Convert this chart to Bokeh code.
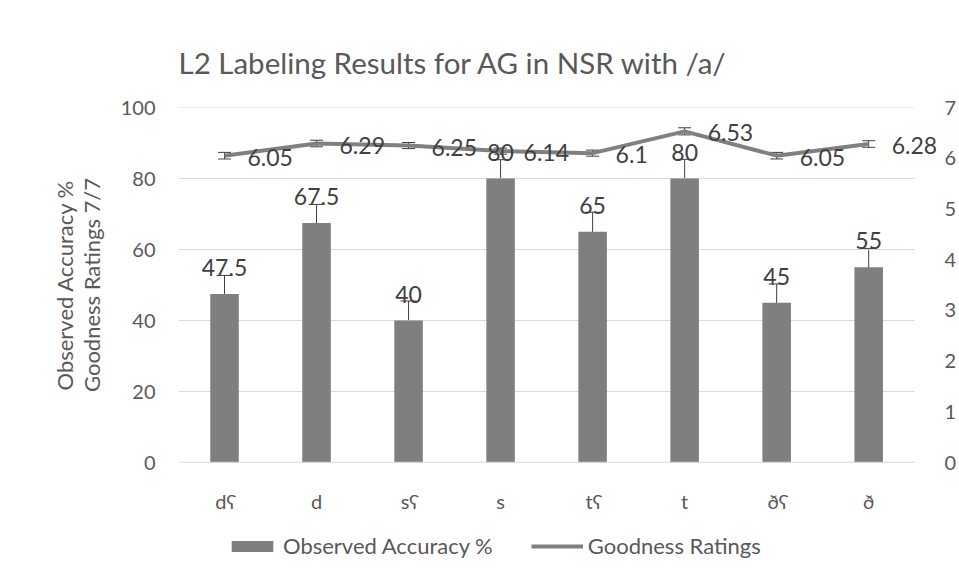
from bokeh.plotting import figure
from bokeh.layouts import column
from bokeh.core.properties import value
from bokeh.models import (Range1d, LinearAxis, Whisker, ColumnDataSource, Legend,
                          LegendItem, LabelSet, FixedTicker, TeeHead)
from bokeh.embed import file_html
from bokeh.resources import INLINE

categories = ["dʕ", "d", "sʕ", "s", "tʕ", "t", "ðʕ", "ð"]
accuracy = [47.5, 67.5, 40, 80, 65, 80, 45, 55]
accuracy_err = [5.2, 5.2, 5.5, 5.3, 5.5, 5.4, 5.3, 5.3]
goodness = [6.05, 6.29, 6.25, 6.14, 6.1, 6.53, 6.05, 6.28]
goodness_err = [0.065, 0.065, 0.06, 0.06, 0.06, 0.07, 0.065, 0.065]
left_ticks = [0, 20, 40, 60, 80, 100]
right_ticks = [0, 1, 2, 3, 4, 5, 6, 7]

FONT = "Lato"
TXT = "#595959"
GRID = "#D9D9D9"
BAR = "#7F7F7F"
LINE = "#808080"

# category slot centres on a numeric axis (one unit per category)
xpos = [i + 0.5 for i in range(len(categories))]
n_cat = len(categories)

src = ColumnDataSource(dict(
    x=xpos,
    acc=accuracy,
    acc_hi=[a + e for a, e in zip(accuracy, accuracy_err)],
    acc_lo=[a - e for a, e in zip(accuracy, accuracy_err)],
    acc_lbl=[f"{a:g}" for a in accuracy],
    good=goodness,
    good_hi=[g + e for g, e in zip(goodness, goodness_err)],
    good_lo=[g - e for g, e in zip(goodness, goodness_err)],
    good_lbl=[f"{g:g}" for g in goodness],
))

p = figure(x_range=Range1d(0, n_cat * 1.0296), y_range=Range1d(0, 100),
           width=959, height=525,
           output_backend="svg", toolbar_location=None,
           title="L2 Labeling Results for AG in NSR with /a/",
           min_border_left=178, min_border_right=17, min_border_top=107,
           min_border_bottom=63)
p.extra_y_ranges = {"right": Range1d(0, 7)}

p.title.align = "left"
p.title.text_font = FONT
p.title.text_font_size = "29.5px"
p.title.text_font_style = "normal"
p.title.text_color = TXT
p.title.standoff = 55

p.outline_line_color = None
p.xgrid.grid_line_color = None
p.ygrid.grid_line_color = None

# horizontal gridlines across the category slots only
p.segment(x0=[0] * len(left_ticks), x1=[n_cat] * len(left_ticks),
          y0=left_ticks, y1=left_ticks, line_color=GRID, line_width=1)

bars = p.vbar(x="x", top="acc", width=0.31, source=src, fill_color=BAR,
              line_color=None)
p.add_layout(Whisker(source=src, base="x", upper="acc_hi", lower="acc_lo",
                     line_color="#404040", line_width=1,
                     upper_head=TeeHead(size=16, line_color="#404040", line_width=1),
                     lower_head=TeeHead(size=16, line_color="#404040", line_width=1)))

line = p.line(x="x", y="good", source=src, y_range_name="right",
              line_width=4, line_color=LINE)
p.add_layout(Whisker(source=src, base="x", upper="good_hi", lower="good_lo",
                     y_range_name="right", line_color="#404040", line_width=1,
                     upper_head=TeeHead(size=13, line_color="#404040", line_width=1),
                     lower_head=TeeHead(size=13, line_color="#404040", line_width=1)))

p.add_layout(LabelSet(x="x", y="acc", text="acc_lbl", source=src, y_offset=18,
                      text_align="center", text_baseline="bottom",
                      text_font=value(FONT), text_font_size="23px",
                      text_color="#404040"))
p.add_layout(LabelSet(x="x", y="good", text="good_lbl", source=src,
                      y_range_name="right", x_offset=23, y_offset=-1.5,
                      text_align="left", text_baseline="middle",
                      text_font=value(FONT), text_font_size="23px",
                      text_color="#404040"))

def style_axis(ax, standoff):
    ax.axis_line_color = None
    ax.major_tick_line_color = None
    ax.minor_tick_line_color = None
    ax.major_label_text_font = FONT
    ax.major_label_text_font_size = "20px"
    ax.major_label_text_color = TXT
    ax.major_label_standoff = standoff

yl = p.yaxis[0]
yl.ticker = FixedTicker(ticks=left_ticks)
style_axis(yl, 17)
yl.axis_label = "Observed Accuracy %\nGoodness Ratings 7/7"
yl.axis_label_text_font = FONT
yl.axis_label_text_font_size = "22px"
yl.axis_label_text_font_style = "normal"
yl.axis_label_text_color = TXT
yl.axis_label_text_line_height = 1.0
yl.axis_label_standoff = 13

yr = LinearAxis(y_range_name="right", ticker=FixedTicker(ticks=right_ticks))
style_axis(yr, 2)
p.add_layout(yr, "right")

xa = p.xaxis[0]
xa.ticker = FixedTicker(ticks=xpos)
xa.major_label_overrides = {x: c for x, c in zip(xpos, categories)}
style_axis(xa, 20)

# category axis baseline
p.segment(x0=[0], x1=[n_cat], y0=[0], y1=[0], line_color=GRID, line_width=1.5)

# legend strip below the chart (its frame is aligned with the chart's frame)
leg = figure(width=959, height=54, x_range=Range1d(0, 1), y_range=Range1d(0, 1),
             output_backend="svg", toolbar_location=None,
             x_axis_type=None, y_axis_type=None, min_border=0)
leg.outline_line_color = None
leg.grid.grid_line_color = None
# swatch renderers kept outside the visible range; only their legend glyphs show
leg_bar = leg.vbar(x=[-5], top=[-5], bottom=[-6], width=0.1, fill_color=BAR,
                   line_color=None)
leg_line = leg.line(x=[-5, -4], y=[-5, -5], line_width=4, line_color=LINE)
legend = Legend(items=[LegendItem(label="Observed Accuracy %", renderers=[leg_bar]),
                       LegendItem(label="Goodness Ratings", renderers=[leg_line])],
                orientation="horizontal", location=(48, 20),
                glyph_width=52, glyph_height=14, label_standoff=5, spacing=38,
                border_line_color=None, background_fill_alpha=0,
                label_text_font=FONT, label_text_font_size="22px",
                label_text_color=TXT, padding=0, margin=0)
leg.add_layout(legend, "center")

layout = column(p, leg, spacing=0)

open("out.html", "w").write(file_html(layout, INLINE))
